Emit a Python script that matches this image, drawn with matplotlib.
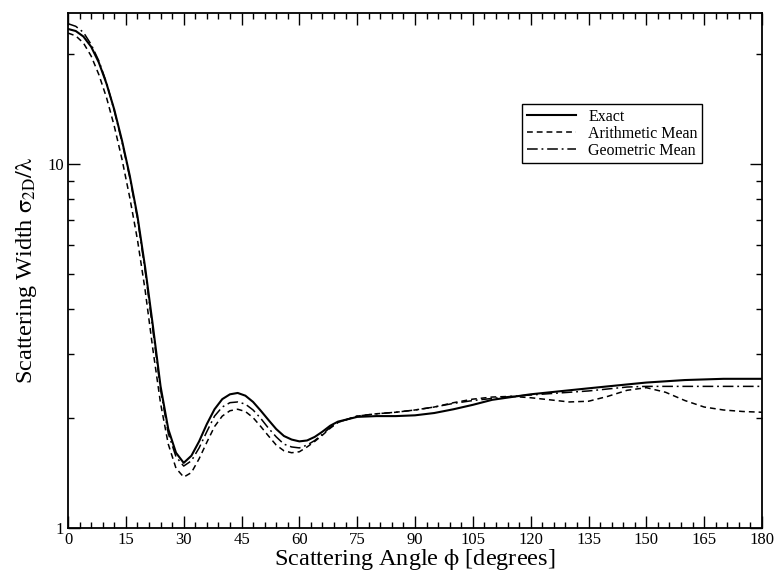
import matplotlib
matplotlib.use("Agg")
import matplotlib.pyplot as plt
from matplotlib.ticker import MultipleLocator, LogLocator, NullFormatter, FixedLocator, FixedFormatter

plt.rcParams['font.family'] = ['Liberation Serif', 'DejaVu Serif']
plt.rcParams['mathtext.fontset'] = 'stix'

angle = [0, 2, 4, 6, 8, 10, 12, 14, 16, 18, 20, 22, 24, 26, 28, 30, 32, 34, 36, 38,
         40, 42, 44, 46, 48, 50, 52, 54, 56, 58, 60, 62, 64, 66, 68, 70,
         75, 80, 85, 90, 95, 100, 105, 110, 115, 120, 125, 130, 135, 140, 145,
         150, 155, 160, 165, 170, 175, 180]

exact = [23.5, 23.2, 22.4, 21.0, 19.0, 16.6, 14.1, 11.6, 9.3, 7.2, 5.2, 3.6, 2.45, 1.87, 1.61, 1.51, 1.58, 1.73, 1.93, 2.12,
         2.26, 2.33, 2.35, 2.31, 2.22, 2.10, 1.98, 1.87, 1.79, 1.75, 1.73, 1.74, 1.78, 1.84, 1.91, 1.96,
         2.02, 2.03, 2.03, 2.04, 2.07, 2.12, 2.18, 2.25, 2.29, 2.33, 2.36, 2.39, 2.42, 2.45, 2.48,
         2.51, 2.53, 2.55, 2.56, 2.57, 2.57, 2.57]

arith = [22.9, 22.5, 21.5, 19.8, 17.6, 15.2, 12.7, 10.3, 8.1, 6.2, 4.5, 3.1, 2.2, 1.7, 1.46, 1.38, 1.42, 1.55, 1.72, 1.90,
         2.03, 2.10, 2.12, 2.09, 2.01, 1.90, 1.79, 1.69, 1.63, 1.61, 1.62, 1.67, 1.73, 1.80, 1.88, 1.95,
         2.03, 2.06, 2.08, 2.11, 2.15, 2.21, 2.26, 2.29, 2.30, 2.28, 2.25, 2.22, 2.23, 2.30, 2.39,
         2.43, 2.36, 2.24, 2.15, 2.11, 2.09, 2.08]

geom = [24.3, 23.9, 23.0, 21.3, 19.2, 16.7, 14.0, 11.5, 9.2, 7.1, 5.1, 3.5, 2.4, 1.82, 1.57, 1.48, 1.53, 1.66, 1.84, 2.03,
        2.15, 2.21, 2.22, 2.19, 2.11, 2.00, 1.88, 1.78, 1.70, 1.67, 1.66, 1.69, 1.74, 1.81, 1.89, 1.95,
        2.03, 2.06, 2.08, 2.11, 2.15, 2.20, 2.24, 2.27, 2.30, 2.32, 2.34, 2.36, 2.38, 2.41, 2.44,
        2.45, 2.45, 2.45, 2.45, 2.45, 2.45, 2.45]

labels = ["Exact", "Arithmetic Mean", "Geometric Mean"]
xticks = list(range(0, 181, 15))

fig = plt.figure(figsize=(7.74, 5.75), dpi=100)
ax = fig.add_axes([0.0879, 0.0817, 0.8966, 0.8957])

ax.plot(angle, exact, color='black', lw=1.5, ls='-', label=labels[0])
ax.plot(angle, arith, color='black', lw=1.1, ls=(0, (3.8, 2.6)), label=labels[1])
ax.plot(angle, geom, color='black', lw=1.1, ls=(0, (7, 2.5, 1.2, 2.5)), label=labels[2])

ax.set_yscale('log')
ax.set_xlim(0, 180)
ax.set_ylim(1, 26)

ax.xaxis.set_major_locator(FixedLocator(xticks))
ax.xaxis.set_minor_locator(MultipleLocator(3))
ax.yaxis.set_major_locator(FixedLocator([1, 10]))
ax.yaxis.set_major_formatter(FixedFormatter(["1", "10"]))
ax.yaxis.set_minor_locator(LogLocator(base=10, subs=range(2, 10)))
ax.yaxis.set_minor_formatter(NullFormatter())

ax.tick_params(which='both', direction='in', top=True, right=True, labelsize=12, width=1.0)
ax.tick_params(which='major', length=8.5, pad=3)
ax.tick_params(which='minor', length=4.3)
for s in ax.spines.values():
    s.set_linewidth(1.3)

ax.set_xlabel(r'Scattering Angle $\mathrm{\phi}$ [degrees]', fontsize=17.5, labelpad=-1)
ax.set_ylabel(r'Scattering Width $\mathrm{\sigma}_{\mathrm{2D}}/\mathrm{\lambda}$', fontsize=17.5, labelpad=6)

leg = ax.legend(loc='upper left', bbox_to_anchor=(0.654, 0.823), fontsize=11.5,
                frameon=True, fancybox=False, edgecolor='black', framealpha=1,
                handlelength=3.1, borderpad=0.3, labelspacing=0.05, handletextpad=0.75,
                borderaxespad=0)
leg.get_frame().set_linewidth(1.0)

fig.savefig('out.png', dpi=100)
